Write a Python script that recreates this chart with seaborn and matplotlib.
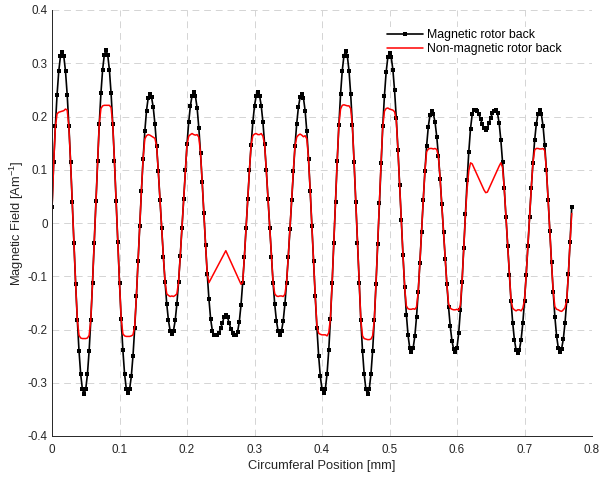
import numpy as np
import pandas as pd
import matplotlib
matplotlib.use("Agg")
import matplotlib.pyplot as plt
import seaborn as sns

# Sampled field along the circumference (one value every position_step_mm)
position_step_mm = 0.0025

magnetic_back = [
    0.030, 0.115, 0.183, 0.241, 0.285, 0.313, 0.322,
    0.313, 0.285, 0.241, 0.183, 0.115, 0.039, -0.038, -0.114, -0.182, -0.240, -0.284, -0.312, -0.321,
    -0.312, -0.284, -0.240, -0.182, -0.113, -0.037, 0.041, 0.117, 0.186, 0.244, 0.288, 0.316, 0.325,
    0.316, 0.288, 0.244, 0.186, 0.117, 0.041, -0.036, -0.112, -0.181, -0.239, -0.283, -0.311, -0.320,
    -0.312, -0.288, -0.249, -0.198, -0.138, -0.072, -0.005, 0.061, 0.121, 0.172, 0.211, 0.235, 0.243,
    0.236, 0.217, 0.186, 0.145, 0.097, 0.044, -0.010, -0.063, -0.111, -0.152, -0.183, -0.202, -0.209,
    -0.202, -0.183, -0.152, -0.111, -0.062, -0.009, 0.046, 0.099, 0.148, 0.189, 0.220, 0.239, 0.246,
    0.238, 0.216, 0.179, 0.132, 0.077, 0.018, -0.041, -0.096, -0.143, -0.180, -0.202, -0.210,
    -0.211, -0.210, -0.206, -0.198, -0.187, -0.177, -0.172, -0.177, -0.188, -0.199, -0.206, -0.210, -0.211,
    -0.204, -0.185, -0.154, -0.112, -0.064, -0.010, 0.045, 0.099, 0.147, 0.189, 0.220, 0.239, 0.246,
    0.239, 0.220, 0.189, 0.148, 0.099, 0.046, -0.010, -0.063, -0.112, -0.153, -0.184, -0.203, -0.210,
    -0.203, -0.184, -0.153, -0.112, -0.064, -0.011, 0.044, 0.097, 0.145, 0.186, 0.217, 0.236, 0.243,
    0.235, 0.211, 0.172, 0.121, 0.061, -0.005, -0.072, -0.138, -0.198, -0.249, -0.288, -0.312, -0.320,
    -0.311, -0.283, -0.239, -0.181, -0.113, -0.037, 0.040, 0.116, 0.184, 0.242, 0.286, 0.314, 0.323,
    0.314, 0.286, 0.242, 0.184, 0.115, 0.040, -0.038, -0.113, -0.182, -0.240, -0.284, -0.312, -0.321,
    -0.312, -0.284, -0.240, -0.183, -0.114, -0.039, 0.038, 0.113, 0.182, 0.239, 0.283, 0.311, 0.320,
    0.312, 0.288, 0.249, 0.198, 0.138, 0.072, 0.005, -0.061, -0.121, -0.172, -0.211, -0.235, -0.243,
    -0.235, -0.213, -0.177, -0.130, -0.075, -0.016, 0.043, 0.098, 0.145, 0.181, 0.203, 0.211,
    0.205, 0.189, 0.162, 0.126, 0.083, 0.035, -0.016, -0.067, -0.115, -0.158, -0.194, -0.221, -0.237, -0.243,
    -0.234, -0.207, -0.164, -0.110, -0.047, 0.017, 0.080, 0.134, 0.177, 0.204, 0.213,
    0.213, 0.210, 0.204, 0.195, 0.185, 0.178, 0.175, 0.179, 0.188, 0.198, 0.206, 0.211, 0.213,
    0.206, 0.187, 0.155, 0.114, 0.065, 0.012, -0.044, -0.097, -0.146, -0.187, -0.219, -0.238, -0.245,
    -0.238, -0.219, -0.188, -0.146, -0.098, -0.044, 0.011, 0.065, 0.113, 0.155, 0.186, 0.205, 0.212,
    0.204, 0.182, 0.146, 0.099, 0.044, -0.015, -0.074, -0.129, -0.176, -0.212, -0.234, -0.242,
    -0.236, -0.218, -0.188, -0.147, -0.096, -0.036, 0.030,
]

non_magnetic_back = [
    0.022, 0.112, 0.180, 0.205, 0.208, 0.209, 0.210,
    0.211, 0.214, 0.212, 0.181, 0.115, 0.039, -0.038, -0.114, -0.181, -0.211, -0.216, -0.217, -0.217,
    -0.217, -0.216, -0.211, -0.181, -0.113, -0.037, 0.041, 0.117, 0.186, 0.215, 0.220, 0.221, 0.221,
    0.221, 0.221, 0.217, 0.185, 0.117, 0.041, -0.036, -0.112, -0.180, -0.208, -0.212, -0.213, -0.213,
    -0.213, -0.212, -0.210, -0.194, -0.138, -0.072, -0.005, 0.061, 0.121, 0.158, 0.164, 0.166, 0.165,
    0.163, 0.161, 0.159, 0.144, 0.097, 0.044, -0.010, -0.063, -0.111, -0.133, -0.136, -0.138, -0.137,
    -0.138, -0.136, -0.133, -0.111, -0.062, -0.009, 0.046, 0.099, 0.147, 0.163, 0.166, 0.168, 0.166,
    0.165, 0.166, 0.161, 0.132, 0.077, 0.018, -0.041, -0.096, -0.112, -0.106, -0.100, -0.094,
    -0.088, -0.082, -0.076, -0.070, -0.064, -0.058, -0.052, -0.059, -0.066, -0.073, -0.080, -0.087, -0.094,
    -0.101, -0.108, -0.115, -0.112, -0.064, -0.010, 0.045, 0.099, 0.147, 0.164, 0.167, 0.168, 0.166,
    0.166, 0.168, 0.163, 0.147, 0.099, 0.046, -0.010, -0.063, -0.112, -0.133, -0.137, -0.138, -0.137,
    -0.137, -0.138, -0.134, -0.112, -0.064, -0.011, 0.044, 0.097, 0.144, 0.161, 0.165, 0.167, 0.165,
    0.162, 0.164, 0.158, 0.121, 0.061, -0.005, -0.072, -0.138, -0.193, -0.207, -0.209, -0.210, -0.210,
    -0.210, -0.212, -0.206, -0.179, -0.113, -0.037, 0.040, 0.116, 0.184, 0.214, 0.221, 0.222, 0.221,
    0.220, 0.220, 0.215, 0.183, 0.115, 0.040, -0.038, -0.113, -0.181, -0.212, -0.217, -0.218, -0.219,
    -0.219, -0.218, -0.212, -0.182, -0.114, -0.039, 0.038, 0.113, 0.181, 0.210, 0.215, 0.216, 0.214,
    0.213, 0.212, 0.209, 0.193, 0.138, 0.072, 0.005, -0.061, -0.121, -0.156, -0.161, -0.162, -0.162,
    -0.161, -0.162, -0.158, -0.130, -0.075, -0.016, 0.043, 0.098, 0.134, 0.139, 0.140, 0.140,
    0.139, 0.140, 0.138, 0.125, 0.083, 0.035, -0.016, -0.067, -0.115, -0.152, -0.160, -0.162, -0.163, -0.163,
    -0.162, -0.164, -0.154, -0.110, -0.047, 0.015, 0.065, 0.098, 0.113, 0.111, 0.104,
    0.097, 0.090, 0.083, 0.076, 0.069, 0.062, 0.057, 0.058, 0.065, 0.072, 0.079, 0.086, 0.093,
    0.100, 0.107, 0.113, 0.104, 0.065, 0.012, -0.044, -0.097, -0.145, -0.160, -0.163, -0.165, -0.163,
    -0.163, -0.165, -0.160, -0.145, -0.098, -0.044, 0.011, 0.065, 0.113, 0.137, 0.140, 0.140, 0.139,
    0.139, 0.140, 0.136, 0.099, 0.044, -0.015, -0.074, -0.128, -0.157, -0.162, -0.163, -0.165,
    -0.166, -0.163, -0.159, -0.146, -0.096, -0.036, 0.018,
]

x_ticks = [0, 0.1, 0.2, 0.3, 0.4, 0.5, 0.6, 0.7, 0.8]
x_tick_labels = ["0", "0.1", "0.2", "0.3", "0.4", "0.5", "0.6", "0.7", "0.8"]
y_ticks = [-0.4, -0.3, -0.2, -0.1, 0, 0.1, 0.2, 0.3, 0.4]
y_tick_labels = ["-0.4", "-0.3", "-0.2", "-0.1", "0", "0.1", "0.2", "0.3", "0.4"]

series_labels = ["Magnetic rotor back", "Non-magnetic rotor back"]

pos_mag = np.arange(len(magnetic_back)) * position_step_mm
pos_non = np.arange(len(non_magnetic_back)) * position_step_mm
df_mag = pd.DataFrame({"position": pos_mag, "field": magnetic_back})
df_non = pd.DataFrame({"position": pos_non, "field": non_magnetic_back})

sns.set_style("white")
plt.rcParams["font.family"] = ["Liberation Sans", "DejaVu Sans"]
plt.rcParams["axes.unicode_minus"] = False
plt.rcParams["mathtext.fontset"] = "custom"
plt.rcParams["mathtext.rm"] = "Liberation Sans"
plt.rcParams["mathtext.it"] = "Liberation Sans:italic"
plt.rcParams["mathtext.default"] = "regular"

ink = "#262626"

fig = plt.figure(figsize=(6.0, 4.78), dpi=100)
ax = fig.add_axes([52 / 600, 1 - 436 / 478, 540 / 600, 426 / 478])

sns.lineplot(data=df_mag, x="position", y="field", ax=ax, color="black",
             linewidth=1.2, marker="s", markersize=2.5, markeredgecolor="black",
             markeredgewidth=0, label=series_labels[0], estimator=None, sort=False)
sns.lineplot(data=df_non, x="position", y="field", ax=ax, color="#ff0000",
             linewidth=1.1, label=series_labels[1], estimator=None, sort=False)

ax.set_xlim(0, 0.8)
ax.set_ylim(-0.4, 0.4)
ax.set_xticks(x_ticks)
ax.set_xticklabels(x_tick_labels)
ax.set_yticks(y_ticks)
ax.set_yticklabels(y_tick_labels)

ax.set_axisbelow(True)
ax.grid(True, color="#d4d4d4", linewidth=0.7, linestyle=(0, (7, 5)))

for side in ["top", "right"]:
    ax.spines[side].set_visible(False)
for side in ["left", "bottom"]:
    ax.spines[side].set_color(ink)
    ax.spines[side].set_linewidth(0.7)

ax.tick_params(direction="in", length=3.5, width=0.7, color=ink,
               labelsize=8.4, labelcolor=ink, pad=3)
ax.tick_params(axis="x", pad=6)

ax.set_xlabel("Circumferal Position [mm]", fontsize=9.3, color=ink, labelpad=3)
ax.set_ylabel("Magnetic Field [Am$^{-1}$]", fontsize=9.3, color=ink, labelpad=1)

handles, labels = ax.get_legend_handles_labels()
leg = ax.legend(handles, labels, loc="upper left", bbox_to_anchor=(0.616, 0.960),
                frameon=True, facecolor="white", edgecolor="none", framealpha=1,
                fancybox=False, fontsize=8.8, handlelength=2.9, handletextpad=0.4,
                labelspacing=0.15, borderpad=0.2, borderaxespad=0)
for t in leg.get_texts():
    t.set_color("black")
# legend box hides the grid but stays beneath the curves
leg.set_zorder(1.5)

fig.savefig("out.png", dpi=100, facecolor="white")
